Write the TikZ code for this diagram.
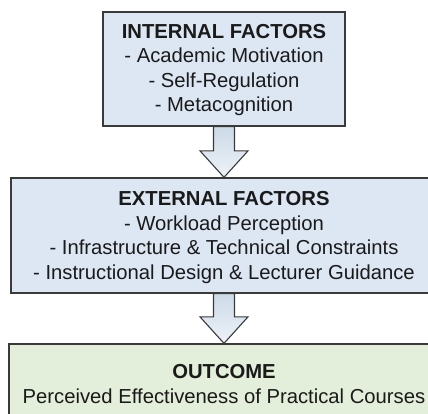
\documentclass[tikz,border=0pt]{standalone}
\usepackage{fontspec}
\setmainfont{Liberation Sans}
\usetikzlibrary{calc,backgrounds}

\definecolor{boxblue}{HTML}{DCE7F3}
\definecolor{boxgreen}{HTML}{E3EFDA}
\definecolor{edge}{HTML}{3A3A3A}
\definecolor{arrowtop}{HTML}{CDDAE8}
\definecolor{arrowbot}{HTML}{EDF2F8}
\definecolor{ink}{HTML}{1A1A1A}

\tikzset{
  panel/.style={draw=edge, line width=1.3pt, inner sep=0pt},
  % anchored on the baseline of the last line
  boxtext/.style={anchor=base, align=center, inner sep=0pt, text=ink,
                  font=\fontsize{20.25}{24.5}\selectfont},
  flowarrow/.style={draw=edge, line width=1.1pt, line join=miter,
                    top color=arrowtop, bottom color=arrowbot}
}

% hollow block arrow from the bottom of one box to the top of the next
\newcommand\blockarrow[2]{%
  \path[flowarrow]
    ($(#1.south)+(-10.5,0)$) -- ($(#2.north)+(-10.5,-26.5)$)
    -- ($(#2.north)+(-24,-26.5)$) -- (#2.north)
    -- ($(#2.north)+(24,-26.5)$) -- ($(#2.north)+(10.5,-26.5)$)
    -- ($(#1.south)+(10.5,0)$) -- cycle;}

\begin{document}
\begin{tikzpicture}[x=1pt,y=-1pt]
  \useasboundingbox (0,0) rectangle (428,414);
  \clip (0,0) rectangle (428,414);

  % boxes
  \node[panel, fill=boxblue, minimum width=242pt, minimum height=114pt] (internal) at (224,69) {};
  \node[panel, fill=boxblue, minimum width=426pt, minimum height=115pt] (external) at (224,235.5) {};
  \node[panel, fill=boxgreen, minimum width=430pt, minimum height=86pt] (outcome) at (224,387) {};

  % texts
  \node[boxtext] (internaltext) at (224,111.7)
    {\textbf{INTERNAL FACTORS}\\- Academic Motivation\\- Self-Regulation\\- Metacognition};
  \node[boxtext] (externaltext) at (224,279)
    {\textbf{EXTERNAL FACTORS}\\- Workload Perception\\- Infrastructure \& Technical Constraints\\- Instructional Design \& Lecturer Guidance};
  \node[boxtext] (outcometext) at (224,403)
    {\textbf{OUTCOME}\\Perceived Effectiveness of Practical Courses};

  % connecting arrows, behind the boxes
  \begin{scope}[on background layer]
    \fill[white] (0,0) rectangle (428,414);
    \blockarrow{internal}{external}
    \blockarrow{external}{outcome}
  \end{scope}
\end{tikzpicture}
\end{document}
